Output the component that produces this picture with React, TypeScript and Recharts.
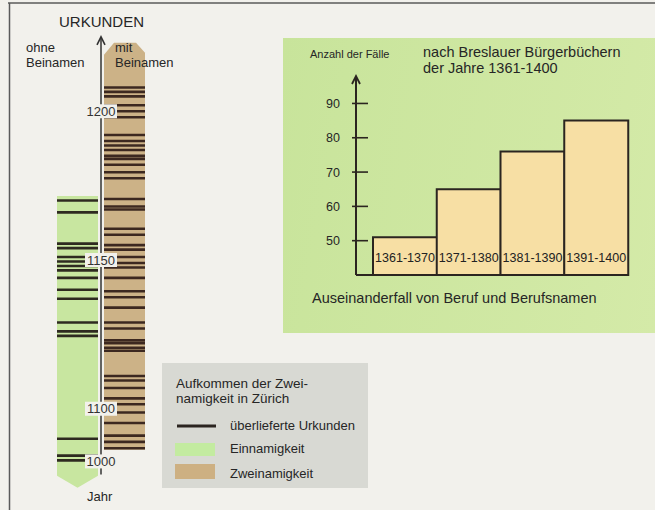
import {
  Bar,
  BarChart,
  Cell,
  ComposedChart,
  Label,
  LabelList,
  Scatter,
  XAxis,
  YAxis,
} from "recharts";

const FONT = "'Liberation Sans', Arial, Helvetica, sans-serif";
const PAPER = "#f2f1ec";
const INK = "#2b2520";

// Zürich: Urkunden ohne / mit Beinamen (Jahre)
const columns = ["ohne Beinamen", "mit Beinamen"];
const stripFrom = [950, 1022];
const stripTo = [1171.5, 1223];
const ohneBeinamen = [
  1170, 1166, 1155.5, 1154, 1151, 1149.5, 1148, 1146.5, 1144, 1140, 1137, 1129,
  1126, 1124.5, 1043, 1011, 1002,
];
const mitBeinamen = [
  1208, 1206.5, 1205, 1202, 1200, 1198, 1192, 1190, 1188.5, 1187, 1185, 1184,
  1182, 1179.5, 1177.5, 1170.5, 1168, 1167, 1160.5, 1158.5, 1155, 1153.5, 1151,
  1149, 1147.5, 1144, 1139.5, 1137.5, 1134, 1129, 1127, 1123, 1122, 1120.5,
  1119.5, 1111, 1109.5, 1107, 1103.5, 1101.5, 1093, 1073, 1049, 1037, 1025,
];
const yearTicks = [1000, 1100, 1150, 1200];
const axisYears = [975, 1225];

// Breslau: Auseinanderfall von Beruf und Berufsnamen
const periods = ["1361-1370", "1371-1380", "1381-1390", "1391-1400"];
const faelle = [51, 65, 76, 85];
const faelleTicks = [50, 60, 70, 80, 90];

// the year axis is squeezed below 1100 (broken scale in the original)
const SQUEEZE = 0.177;
const disp = (year: number) =>
  year >= 1100 ? year : 1100 - (1100 - year) * SQUEEZE;

const stripColors = ["#c8e6a0", "#ccb287"];
const lineColors = ["#2e2a20", "#3c2820"];

function Strip(props: any) {
  const { x, y, width, height, fill, index } = props;
  const top = Math.min(y, y + height);
  const bot = Math.max(y, y + height);
  const pts =
    index === 0
      ? [[x, top], [x + width, top], [x + width, bot - 12], [x + width / 2, bot], [x, bot - 12]]
      : [[x, top + 12], [x + 10, top], [x + width - 9, top], [x + width, top + 10], [x + width, bot], [x, bot]];
  return <polygon points={pts.map((p) => p.join(",")).join(" ")} fill={fill} />;
}

const eventLine = (color: string) => (props: any) => (
  <line
    x1={props.cx - 20.5}
    x2={props.cx + 20.5}
    y1={props.cy}
    y2={props.cy}
    stroke={color}
    strokeWidth={2.6}
  />
);

function AxisHead(props: any) {
  const { cx, cy, index } = props;
  if (index !== 1) return <g />;
  return (
    <path
      d={`M${cx - 4},${cy + 8} L${cx},${cy} L${cx + 4},${cy + 8}`}
      fill="none"
      stroke="#333"
      strokeWidth={1.6}
    />
  );
}

function YearLabel(props: any) {
  const { cx, cy, payload } = props;
  return (
    <g>
      <rect x={cx - 16} y={cy - 7} width={32} height={14} fill={PAPER} />
      <text
        x={cx}
        y={cy}
        dy="0.36em"
        textAnchor="middle"
        fontSize={13}
        fontFamily={FONT}
        fill="#333"
      >
        {payload.label}
      </text>
    </g>
  );
}

function Timeline() {
  const strips = columns.map((name, i) => ({
    name,
    col: i,
    range: [disp(stripFrom[i]), disp(stripTo[i])],
  }));
  const ohne = ohneBeinamen.map((year) => ({ col: 0, y: disp(year) }));
  const mit = mitBeinamen.map((year) => ({ col: 1, y: disp(year) }));
  // the year axis stands between the two columns
  const axis = axisYears.map((year) => ({ mid: 0.5, y: disp(year) }));
  const ticks = yearTicks.map((year) => ({ mid: 0.5, y: disp(year), label: String(year) }));

  return (
    <ComposedChart
      width={200}
      height={510}
      data={strips}
      margin={{ top: 22, right: 52, bottom: 12, left: 54 }}
    >
      <XAxis type="number" dataKey="col" domain={[-0.5, 1.5]} ticks={[0, 1]} hide />
      <XAxis xAxisId="mid" type="number" dataKey="mid" domain={[-0.5, 1.5]} hide />
      <YAxis type="number" domain={[1070, 1230]} hide allowDataOverflow />
      <Bar dataKey="range" barSize={41} shape={Strip} isAnimationActive={false}>
        {strips.map((s, i) => (
          <Cell key={s.name} fill={stripColors[i]} />
        ))}
      </Bar>
      <Scatter data={ohne} dataKey="y" shape={eventLine(lineColors[0])} isAnimationActive={false} />
      <Scatter data={mit} dataKey="y" shape={eventLine(lineColors[1])} isAnimationActive={false} />
      <Scatter
        xAxisId="mid"
        data={axis}
        dataKey="y"
        line={{ stroke: "#333", strokeWidth: 1.5 }}
        shape={AxisHead}
        isAnimationActive={false}
      />
      <Scatter xAxisId="mid" data={ticks} dataKey="y" shape={YearLabel} isAnimationActive={false} />
    </ComposedChart>
  );
}

function FaelleTick(props: any) {
  const { x, y, payload } = props;
  const ax = x + 16;
  return (
    <g>
      <line x1={ax - 4} x2={ax + 12} y1={y} y2={y} stroke={INK} strokeWidth={1.6} />
      <text
        x={x}
        y={y}
        dy="0.36em"
        textAnchor="end"
        fontSize={12.5}
        fontFamily={FONT}
        fill="#262626"
      >
        {payload.value}
      </text>
    </g>
  );
}

function ArrowHead(props: any) {
  const vb = props.viewBox || {};
  const ax = vb.x + vb.width;
  const ay = vb.y;
  return (
    <path
      d={`M${ax - 4},${ay + 8} L${ax},${ay} L${ax + 4},${ay + 8}`}
      fill="none"
      stroke={INK}
      strokeWidth={1.8}
    />
  );
}

function Breslau() {
  const data = periods.map((period, i) => ({ period, value: faelle[i] }));
  return (
    <BarChart
      width={372}
      height={295}
      data={data}
      barCategoryGap={0}
      margin={{ top: 38, right: 27, bottom: 57, left: 0 }}
    >
      <XAxis
        dataKey="period"
        tick={false}
        tickLine={false}
        height={1}
        padding={{ left: 17, right: 0 }}
        axisLine={{ stroke: INK, strokeWidth: 2 }}
      />
      <YAxis
        type="number"
        domain={[40, 98]}
        ticks={faelleTicks}
        width={73}
        tickSize={0}
        tickMargin={16}
        tick={<FaelleTick />}
        axisLine={{ stroke: INK, strokeWidth: 2 }}
      >
        <Label content={ArrowHead} />
      </YAxis>
      <Bar dataKey="value" fill="#f7dfa4" stroke={INK} strokeWidth={2} isAnimationActive={false}>
        <LabelList
          dataKey="period"
          position="insideBottom"
          offset={13}
          fontSize={12.5}
          fontFamily={FONT}
          fill="#222"
        />
      </Bar>
    </BarChart>
  );
}

export default function App() {
  const txt = { fontFamily: FONT, fill: "#262626" };
  return (
    <div
      style={{
        position: "absolute",
        left: 0,
        top: 0,
        width: 655,
        height: 510,
        background: PAPER,
        overflow: "hidden",
        fontFamily: FONT,
      }}
    >
      <div style={{ position: "absolute", left: 0, top: 0 }}>
        <Timeline />
      </div>
      <div
        style={{
          position: "absolute",
          left: 283,
          top: 38,
          width: 372,
          height: 295,
          background: "linear-gradient(100deg, #c8e49b, #d4eaa8)",
        }}
      >
        <Breslau />
      </div>
      <svg
        width={655}
        height={510}
        style={{ position: "absolute", left: 0, top: 0, pointerEvents: "none" }}
      >
        <line x1={8} x2={655} y1={3} y2={3} stroke="#5a5a5a" strokeWidth={1.5} />
        <line x1={9.5} x2={9.5} y1={3} y2={510} stroke="#5a5a5a" strokeWidth={1.5} />

        <text x={59} y={27} fontSize={15} {...txt}>URKUNDEN</text>
        <text x={26} y={51.5} fontSize={13} {...txt}>ohne</text>
        <text x={26} y={66.5} fontSize={13} {...txt}>Beinamen</text>
        <text x={115} y={51.5} fontSize={13} {...txt}>mit</text>
        <text x={115} y={66.5} fontSize={13} {...txt}>Beinamen</text>
        <text x={87} y={501} fontSize={13} {...txt}>Jahr</text>

        <text x={310} y={58} fontSize={11} {...txt}>Anzahl der Fälle</text>
        <text x={423} y={56.5} fontSize={14.5} {...txt}>nach Breslauer Bürgerbüchern</text>
        <text x={423} y={73} fontSize={14.5} {...txt}>der Jahre 1361-1400</text>
        <text x={312} y={303} fontSize={14.5} {...txt}>Auseinanderfall von Beruf und Berufsnamen</text>

        <rect x={162} y={363} width={206} height={125} fill="#d8d9d3" />
        <text x={176} y={387.5} fontSize={13.5} {...txt}>Aufkommen der Zwei-</text>
        <text x={176} y={403} fontSize={13.5} {...txt}>namigkeit in Zürich</text>
        <line x1={177} x2={216} y1={426} y2={426} stroke={INK} strokeWidth={3} />
        <text x={230} y={430} fontSize={13} {...txt}>überlieferte Urkunden</text>
        <rect x={175} y={443} width={40} height={13} fill="#c3eba0" />
        <text x={230} y={453} fontSize={13} {...txt}>Einnamigkeit</text>
        <rect x={175} y={464} width={40} height={15} fill="#cdb082" />
        <text x={230} y={478} fontSize={13} {...txt}>Zweinamigkeit</text>
      </svg>
    </div>
  );
}
